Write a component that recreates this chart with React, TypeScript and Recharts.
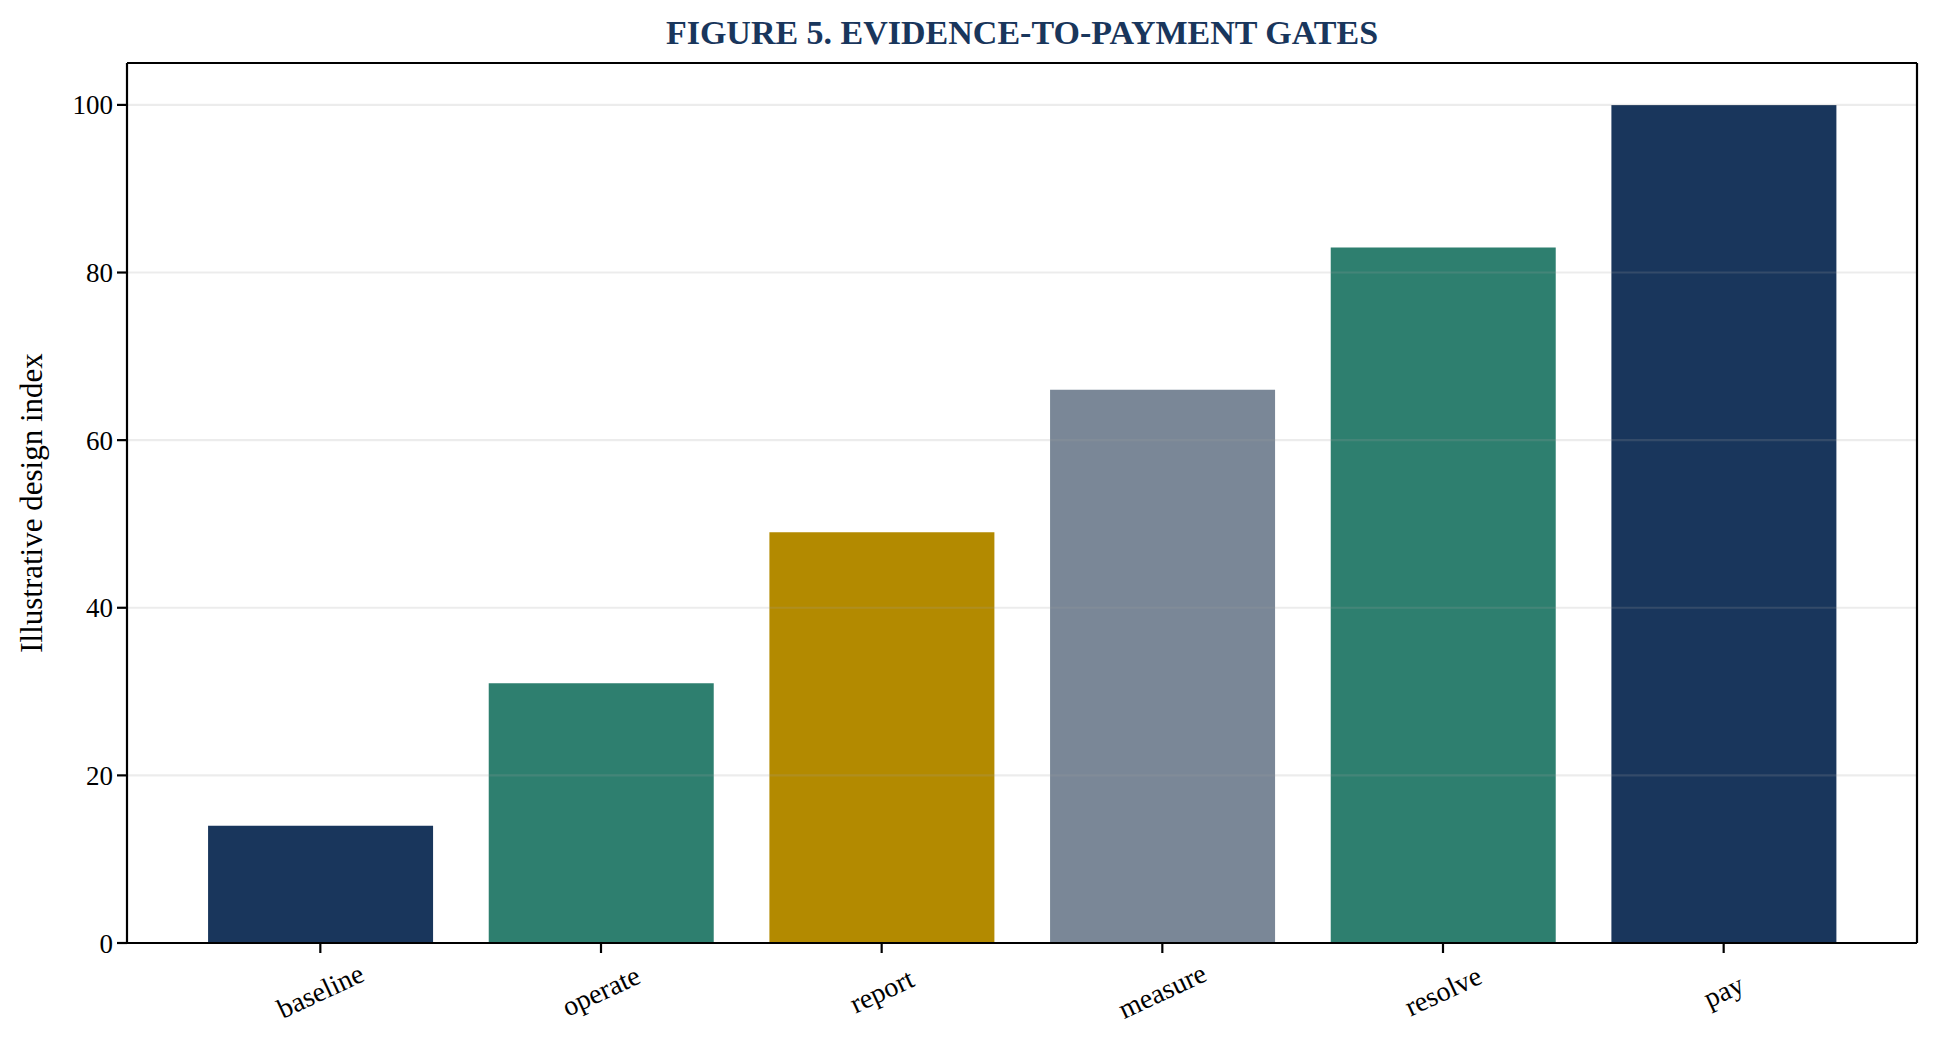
import { BarChart, Bar, XAxis, YAxis, Cell, ReferenceLine } from 'recharts';

const stages = ['baseline', 'operate', 'report', 'measure', 'resolve', 'pay'];
const indexValues = [14, 31, 49, 66, 83, 100];
const barColors = ['#19365c', '#2e7f6f', '#b38a00', '#7a8797', '#2e7f6f', '#19365c'];
const yTicks = [0, 20, 40, 60, 80, 100];

const chartData = stages.map((stage, i) => ({ stage, value: indexValues[i] }));

const FONT = '"Liberation Serif", "Times New Roman", serif';

// rotated category labels, centred under the tick like matplotlib rotation=25 ha=center
function StageTick(props: any) {
  const { x, y, payload } = props;
  return (
    <text
      transform={`translate(${x},${y + 34}) rotate(-25)`}
      textAnchor="middle"
      dominantBaseline="central"
      fontFamily={FONT}
      fontSize={28}
      fill="#000"
    >
      {payload.value}
    </text>
  );
}

export default function App() {
  return (
    <div style={{ position: 'absolute', left: 0, top: 0, width: 1938, height: 1045, background: '#fff' }}>
      <BarChart
        width={1938}
        height={1045}
        data={chartData}
        margin={{ top: 62, right: 20, bottom: 0, left: 0 }}
        barCategoryGap="10%"
      >
        <XAxis
          dataKey="stage"
          height={102}
          padding={{ left: 53, right: 53 }}
          tick={<StageTick />}
          tickSize={10}
          tickMargin={4}
          axisLine={{ stroke: '#000', strokeWidth: 2.2 }}
          tickLine={{ stroke: '#000', strokeWidth: 2.2 }}
          interval={0}
        />
        <XAxis
          xAxisId="top"
          orientation="top"
          dataKey="stage"
          height={1}
          tick={false}
          tickLine={false}
          axisLine={{ stroke: '#000', strokeWidth: 2.2 }}
        />
        <YAxis
          domain={[0, 105]}
          ticks={yTicks}
          width={127}
          tickSize={10}
          tickMargin={4}
          tick={{ fontFamily: FONT, fontSize: 27, fill: '#000' }}
          axisLine={{ stroke: '#000', strokeWidth: 2.2 }}
          tickLine={{ stroke: '#000', strokeWidth: 2.2 }}
        />
        <YAxis
          yAxisId="right"
          orientation="right"
          domain={[0, 105]}
          width={1}
          tick={false}
          tickLine={false}
          axisLine={{ stroke: '#000', strokeWidth: 2.2 }}
        />
        <Bar dataKey="value" isAnimationActive={false}>
          {chartData.map((d, i) => (
            <Cell key={d.stage} fill={barColors[i]} />
          ))}
        </Bar>
        {yTicks.slice(1).map((t) => (
          <ReferenceLine key={t} y={t} stroke="#a0a0a0" strokeOpacity={0.2} strokeWidth={2.2} />
        ))}
      </BarChart>
      <svg
        width={1938}
        height={1045}
        style={{ position: 'absolute', left: 0, top: 0, pointerEvents: 'none' }}
      >
        <text
          x={1022}
          y={44}
          textAnchor="middle"
          fontFamily={FONT}
          fontWeight="bold"
          fontSize={34}
          fill="#19365c"
        >
          FIGURE 5. EVIDENCE-TO-PAYMENT GATES
        </text>
        <text
          transform="translate(42,503) rotate(-90)"
          textAnchor="middle"
          fontFamily={FONT}
          fontSize={31}
          fill="#000"
        >
          Illustrative design index
        </text>
      </svg>
    </div>
  );
}
